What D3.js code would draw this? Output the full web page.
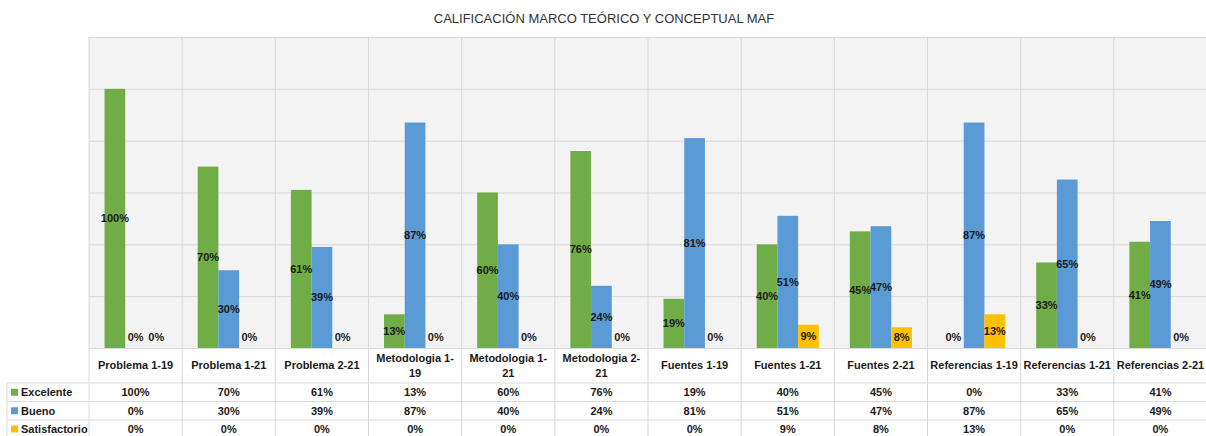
<!DOCTYPE html>
<html>
<head>
<meta charset="utf-8">
<script src="https://cdn.jsdelivr.net/npm/d3@7"></script>
<style>
  body { margin: 0; background: #fff; }
  svg { display: block; font-family: "Liberation Sans", Arial, sans-serif; }
</style>
</head>
<body>
<svg id="chart" width="1206" height="436"></svg>
<script>
// ---- data ----
const categories = ["Problema 1-19", "Problema 1-21", "Problema 2-21", "Metodologia 1-19",
  "Metodologia 1-21", "Metodologia 2-21", "Fuentes 1-19", "Fuentes 1-21", "Fuentes 2-21",
  "Referencias 1-19", "Referencias 1-21", "Referencias 2-21"];
const seriesNames = ["Excelente", "Bueno", "Satisfactorio"];
const seriesColors = ["#70ad47", "#5b9bd5", "#ffc000"];
const excelente = [1.00, 0.70, 0.61, 0.13, 0.60, 0.76, 0.19, 0.40, 0.45, 0.00, 0.33, 0.41];
const bueno = [0.00, 0.30, 0.39, 0.87, 0.40, 0.24, 0.81, 0.51, 0.47, 0.87, 0.65, 0.49];
const satisfactorio = [0.00, 0.00, 0.00, 0.00, 0.00, 0.00, 0.00, 0.09, 0.08, 0.13, 0.00, 0.00];
const yTicks = [0, 0.2, 0.4, 0.6, 0.8, 1.0, 1.2];

const values = [excelente, bueno, satisfactorio];
const pct = d3.format(".0%");

const svg = d3.select("#chart");
const plot = {left: 89, right: 1207, top: 37, bottom: 348};
const tableLeft = 7;
const rowLines = [383, 401.5, 420, 438];

const x = d3.scaleBand().domain(categories).range([plot.left, plot.right]);
const bw = x.bandwidth() / 4.5;   // gap width 150%
const xs = d3.scaleBand().domain(seriesNames)
    .range([bw * 0.75, x.bandwidth() - bw * 0.75]);
const y = d3.scaleLinear().domain([0, 1.2]).range([plot.bottom, plot.top]);

// title
svg.append("text")
    .attr("x", 604).attr("y", 23)
    .attr("text-anchor", "middle")
    .style("font-size", "13px").style("fill", "#333")
    .text("CALIFICACIÓN MARCO TEÓRICO Y CONCEPTUAL MAF");

// plot background
svg.append("rect")
    .attr("x", plot.left).attr("y", plot.top)
    .attr("width", plot.right - plot.left).attr("height", plot.bottom - plot.top)
    .attr("fill", "#f3f3f3");

// horizontal gridlines
svg.append("g")
    .attr("transform", `translate(${plot.left},0)`)
    .call(d3.axisLeft(y).tickValues(yTicks).tickSize(-(plot.right - plot.left)).tickFormat(""))
    .call(g => g.select(".domain").remove())
    .selectAll("line").attr("stroke", "#d9d9d9");

// vertical gridlines (through plot and table)
svg.append("g")
    .selectAll("line")
    .data(categories.concat([null]))
    .join("line")
    .attr("x1", (d, i) => plot.left + i * x.step())
    .attr("x2", (d, i) => plot.left + i * x.step())
    .attr("y1", plot.top).attr("y2", 436)
    .attr("stroke", "#d9d9d9");

// bars
const groups = svg.append("g")
    .selectAll("g")
    .data(categories)
    .join("g")
    .attr("transform", d => `translate(${x(d)},0)`);

seriesNames.forEach((s, si) => {
  groups.append("rect")
      .attr("x", xs(s))
      .attr("width", xs.bandwidth())
      .attr("y", (d, i) => y(values[si][i]))
      .attr("height", (d, i) => y(0) - y(values[si][i]))
      .attr("fill", seriesColors[si]);
});

// data labels (inside center, kept above the axis)
seriesNames.forEach((s, si) => {
  groups.append("text")
      .attr("x", xs(s) + xs.bandwidth() / 2)
      .attr("y", (d, i) => Math.min((y(values[si][i]) + y(0)) / 2, y(0) - 11))
      .attr("dy", "0.35em")
      .attr("text-anchor", "middle")
      .style("font-size", "11px").style("font-weight", "bold").style("fill", "#1a1a1a")
      .text((d, i) => pct(values[si][i]));
});

// table lines
const lines = svg.append("g").attr("stroke", "#d9d9d9");
lines.append("line").attr("x1", plot.left).attr("x2", 1206).attr("y1", plot.bottom + 0.5).attr("y2", plot.bottom + 0.5);
rowLines.forEach(r => {
  lines.append("line").attr("x1", tableLeft).attr("x2", 1206).attr("y1", r).attr("y2", r);
});
lines.append("line").attr("x1", tableLeft).attr("x2", tableLeft).attr("y1", rowLines[0]).attr("y2", 436);

// category labels with wrapping
const maxW = x.bandwidth() - 4.5;
const catLabels = svg.append("g")
    .selectAll("text")
    .data(categories)
    .join("text")
    .attr("text-anchor", "middle")
    .style("font-size", "11px").style("font-weight", "bold").style("fill", "#1a1a1a");

catLabels.each(function(d) {
  const el = d3.select(this);
  const tokens = d.split(/(?<=[ -])/);
  const linesOut = [];
  let cur = "";
  tokens.forEach(t => {
    el.text(cur + t);
    if (cur && this.getComputedTextLength() > maxW) {
      linesOut.push(cur.trimEnd());
      cur = t;
    } else {
      cur += t;
    }
  });
  linesOut.push(cur);
  el.text(null);
  const cx = x(d) + x.bandwidth() / 2;
  const cy = (plot.bottom + rowLines[0]) / 2;
  const lh = 15;
  linesOut.forEach((ln, k) => {
    el.append("tspan")
        .attr("x", cx)
        .attr("y", cy + (k - (linesOut.length - 1) / 2) * lh)
        .attr("dy", "0.35em")
        .text(ln);
  });
});

// table rows
seriesNames.forEach((s, si) => {
  const cy = (rowLines[si] + rowLines[si + 1]) / 2;
  svg.append("rect")
      .attr("x", 11).attr("y", cy - 3.5)
      .attr("width", 7).attr("height", 7)
      .attr("fill", seriesColors[si]);
  svg.append("text")
      .attr("x", 21).attr("y", cy).attr("dy", "0.35em")
      .style("font-size", "11px").style("font-weight", "bold").style("fill", "#1a1a1a")
      .text(s);
  svg.append("g")
      .selectAll("text")
      .data(categories)
      .join("text")
      .attr("x", d => x(d) + x.bandwidth() / 2)
      .attr("y", cy).attr("dy", "0.35em")
      .attr("text-anchor", "middle")
      .style("font-size", "11px").style("font-weight", "bold").style("fill", "#1a1a1a")
      .text((d, i) => pct(values[si][i]));
});
</script>
</body>
</html>
